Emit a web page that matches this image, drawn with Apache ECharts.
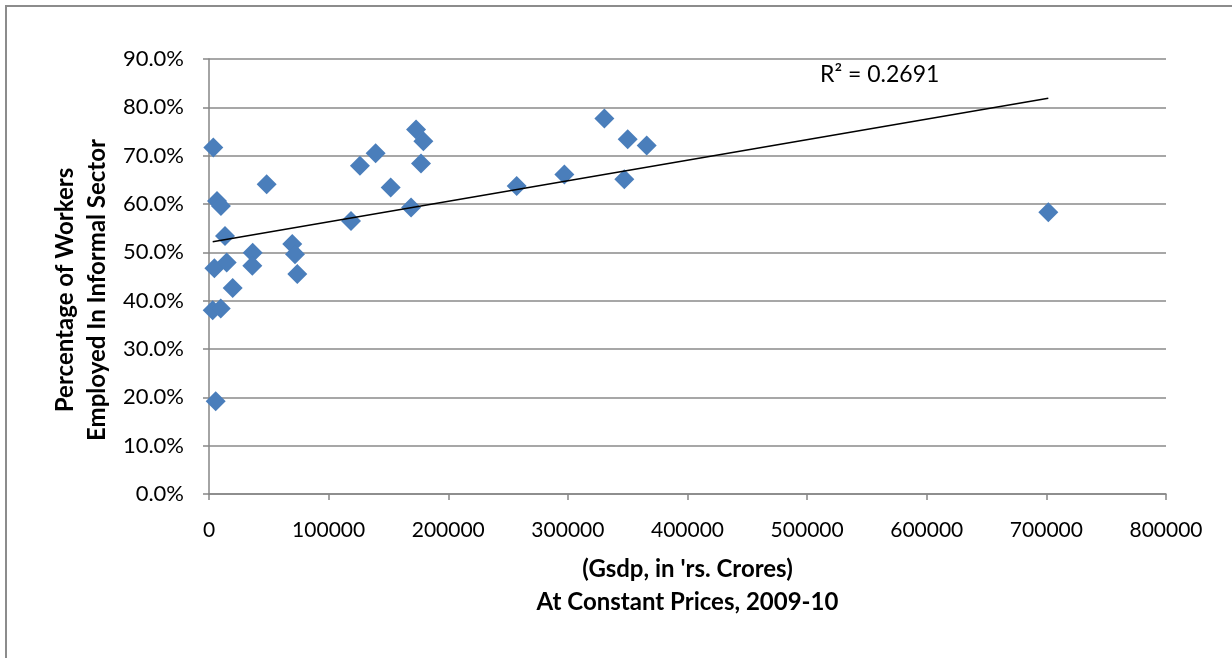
<!DOCTYPE html>
<html>
<head>
<meta charset="utf-8">
<script src="https://cdn.jsdelivr.net/npm/echarts@6/dist/echarts.min.js"></script>
<style>
  html, body { margin: 0; padding: 0; background: #fff; }
  #chart { width: 1232px; height: 658px; }
</style>
</head>
<body>
<div id="chart"></div>
<script>
// GSDP at constant prices (Rs. crores, 2009-10) for each state
const gsdp = [
  3600, 6700, 10000, 13400, 36500, 4500, 14800, 36200, 19800, 3100, 9800, 5600,
  48200, 69600, 71900, 73800, 118700, 126200, 139300, 151900, 168900, 177200,
  179200, 173100, 257200, 297100, 330500, 350000, 365900, 347200, 701600
];
// Share of workers employed in the informal sector (%)
const informalShare = [
  71.7, 60.6, 59.6, 53.4, 49.9, 46.7, 47.9, 47.2, 42.6, 38.0, 38.4, 19.2,
  64.1, 51.7, 49.6, 45.5, 56.5, 67.9, 70.5, 63.4, 59.3, 68.4,
  73.0, 75.4, 63.7, 66.1, 77.7, 73.4, 72.1, 65.1, 58.3
];
const xTicks = [0, 100000, 200000, 300000, 400000, 500000, 600000, 700000, 800000];
const yTicks = [0, 10, 20, 30, 40, 50, 60, 70, 80, 90];
const r2Text = 'R² = 0.2691';
const xTitle = "(Gsdp, in 'rs. Crores)\nAt Constant Prices, 2009-10";
const yTitle = 'Percentage of Workers\nEmployed In Informal Sector';

// Least-squares linear trend over the observed GSDP range
const n = gsdp.length;
const mx = gsdp.reduce((a, b) => a + b, 0) / n;
const my = informalShare.reduce((a, b) => a + b, 0) / n;
let sxy = 0, sxx = 0;
for (let i = 0; i < n; i++) {
  sxy += (gsdp[i] - mx) * (informalShare[i] - my);
  sxx += (gsdp[i] - mx) * (gsdp[i] - mx);
}
const slope = sxy / sxx;
const intercept = my - slope * mx;
const xMin = Math.min(...gsdp), xMax = Math.max(...gsdp);
const trend = [[xMin, intercept + slope * xMin], [xMax, intercept + slope * xMax]];

const font = 'Lato, "Open Sans", sans-serif';
const chart = echarts.init(document.getElementById('chart'));
chart.setOption({
  animation: false,
  backgroundColor: '#fff',
  grid: { left: 209, right: 66, top: 59, bottom: 164, containLabel: false },
  xAxis: {
    type: 'value', min: xTicks[0], max: xTicks[xTicks.length - 1], interval: 100000,
    axisLine: { show: true, lineStyle: { color: '#868686', width: 1.5 } },
    axisTick: { show: true, length: 6, lineStyle: { color: '#868686', width: 1.5 } },
    axisLabel: { color: '#000', fontSize: 21, fontFamily: font, margin: 26,
      formatter: v => String(v) },
    splitLine: { show: false },
    name: xTitle,
    nameLocation: 'middle', nameGap: 59,
    nameTextStyle: { color: '#000', fontSize: 24, fontWeight: 'bold', fontFamily: font, lineHeight: 33 }
  },
  yAxis: {
    type: 'value', min: yTicks[0], max: yTicks[yTicks.length - 1], interval: 10,
    axisLine: { show: true, lineStyle: { color: '#868686', width: 1.5 } },
    axisTick: { show: true, length: 6, lineStyle: { color: '#868686', width: 1.5 } },
    axisLabel: { color: '#000', fontSize: 22, fontFamily: font, margin: 25,
      formatter: v => v.toFixed(1) + '%' },
    splitLine: { show: true, lineStyle: { color: '#8a8a8a', width: 1.5 } }
  },
  series: [
    {
      type: 'scatter', name: 'States',
      data: gsdp.map((g, i) => [g, informalShare[i]]),
      symbol: 'diamond', symbolSize: [20, 20],
      itemStyle: { color: '#4a7ebb', opacity: 1 }, z: 3
    },
    {
      type: 'line', name: 'Linear trend', data: trend,
      symbol: 'none', lineStyle: { color: '#000', width: 1.5 }, z: 4
    }
  ],
  graphic: [
    { type: 'rect', shape: { x: 6, y: 6, width: 1240, height: 700 },
      style: { fill: 'none', stroke: '#8c8c8c', lineWidth: 2 }, silent: true },
    { type: 'text', left: 820, top: 63,
      style: { text: r2Text, fill: '#000', font: '23px ' + font } },
    { type: 'text', x: 81, y: 290, rotation: Math.PI / 2,
      style: { text: yTitle, fill: '#000', font: 'bold 24px ' + font,
        align: 'center', verticalAlign: 'middle', lineHeight: 32 } }
  ]
});
</script>
</body>
</html>
